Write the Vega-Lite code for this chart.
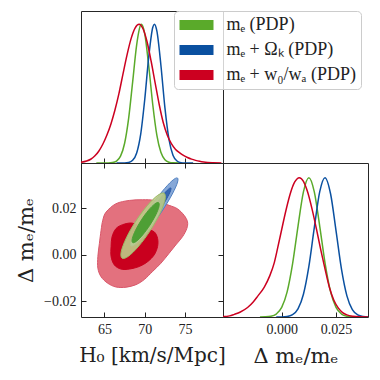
{
  "$schema": "https://vega.github.io/schema/vega-lite/v6.json",
  "padding": {"left": 15, "top": 10, "right": 5, "bottom": 5},
  "spacing": 0,
  "bounds": "flush",
  "config": {
    "view": {"stroke": "#262626", "strokeWidth": 1},
    "axis": {"labelFont": "Liberation Serif", "labelFontSize": 14, "labelColor": "#222", "titleFont": "DejaVu Serif", "titleFontSize": 20, "titleFontWeight": "normal", "titleColor": "#222", "tickColor": "#222", "domain": false, "grid": false, "tickSize": -5, "labelPadding": 10},
    "legend": {"labelFont": "Liberation Serif", "labelFontSize": 18, "labelColor": "#222"}
  },
  "datasets": {
    "h0": [
      {"s":"G","x":64.0,"p":0},{"s":"G","x":65.5,"p":0.0006},{"s":"G","x":66.0,"p":0.0031},{"s":"G","x":66.5,"p":0.0139},{"s":"G","x":67.0,"p":0.0494},{"s":"G","x":67.5,"p":0.1406},{"s":"G","x":68.0,"p":0.32},{"s":"G","x":68.5,"p":0.5836},{"s":"G","x":69.0,"p":0.852},{"s":"G","x":69.5,"p":0.9956},{"s":"G","x":69.6,"p":1.0},{"s":"G","x":70.0,"p":0.931},{"s":"G","x":70.5,"p":0.6974},{"s":"G","x":71.0,"p":0.418},{"s":"G","x":71.5,"p":0.2007},{"s":"G","x":72.0,"p":0.0771},{"s":"G","x":72.5,"p":0.0237},{"s":"G","x":73.0,"p":0.0058},{"s":"G","x":73.5,"p":0.0012},{"s":"G","x":74.5,"p":0},
      {"s":"B","x":66.5,"p":0},{"s":"B","x":67.5,"p":0.0006},{"s":"B","x":68.0,"p":0.0039},{"s":"B","x":68.5,"p":0.0192},{"s":"B","x":69.0,"p":0.0724},{"s":"B","x":69.5,"p":0.2085},{"s":"B","x":70.0,"p":0.458},{"s":"B","x":70.5,"p":0.7666},{"s":"B","x":71.0,"p":0.9785},{"s":"B","x":71.2,"p":1.0},{"s":"B","x":71.5,"p":0.9523},{"s":"B","x":72.0,"p":0.7068},{"s":"B","x":72.5,"p":0.3998},{"s":"B","x":73.0,"p":0.1724},{"s":"B","x":73.5,"p":0.0567},{"s":"B","x":74.0,"p":0.0142},{"s":"B","x":74.5,"p":0.0027},{"s":"B","x":75.0,"p":0.0004},{"s":"B","x":76.0,"p":0},
      {"s":"R","x":62.1,"p":0.005},{"s":"R","x":62.8,"p":0.014},{"s":"R","x":63.3,"p":0.027},{"s":"R","x":63.8,"p":0.05},{"s":"R","x":64.3,"p":0.085},{"s":"R","x":64.8,"p":0.135},{"s":"R","x":65.3,"p":0.2},{"s":"R","x":65.8,"p":0.28},{"s":"R","x":66.3,"p":0.38},{"s":"R","x":66.8,"p":0.5},{"s":"R","x":67.3,"p":0.641},{"s":"R","x":67.8,"p":0.778},{"s":"R","x":68.3,"p":0.895},{"s":"R","x":68.8,"p":0.9725},{"s":"R","x":69.3,"p":1.0},{"s":"R","x":69.8,"p":0.966},{"s":"R","x":70.3,"p":0.871},{"s":"R","x":70.8,"p":0.732},{"s":"R","x":71.3,"p":0.574},{"s":"R","x":71.8,"p":0.42},{"s":"R","x":72.3,"p":0.29},{"s":"R","x":72.8,"p":0.2},{"s":"R","x":73.3,"p":0.14},{"s":"R","x":73.8,"p":0.1},{"s":"R","x":74.3,"p":0.075},{"s":"R","x":74.8,"p":0.055},{"s":"R","x":75.3,"p":0.04},{"s":"R","x":75.8,"p":0.028},{"s":"R","x":76.3,"p":0.019},{"s":"R","x":76.8,"p":0.012},{"s":"R","x":77.3,"p":0.007},{"s":"R","x":77.8,"p":0.004},{"s":"R","x":78.5,"p":0.002},{"s":"R","x":79.5,"p":0.0005}
    ],
    "dm": [
      {"s":"G","x":-0.01,"p":0},{"s":"G","x":-0.0075,"p":0.0011},{"s":"G","x":-0.005,"p":0.0052},{"s":"G","x":-0.0025,"p":0.0211},{"s":"G","x":0,"p":0.0686},{"s":"G","x":0.0025,"p":0.18},{"s":"G","x":0.005,"p":0.381},{"s":"G","x":0.0075,"p":0.651},{"s":"G","x":0.01,"p":0.898},{"s":"G","x":0.0125,"p":1.0},{"s":"G","x":0.015,"p":0.898},{"s":"G","x":0.0175,"p":0.651},{"s":"G","x":0.02,"p":0.381},{"s":"G","x":0.0225,"p":0.18},{"s":"G","x":0.025,"p":0.0686},{"s":"G","x":0.0275,"p":0.0211},{"s":"G","x":0.03,"p":0.0052},{"s":"G","x":0.0325,"p":0.0011},{"s":"G","x":0.035,"p":0},
      {"s":"B","x":-0.0025,"p":0},{"s":"B","x":0,"p":0.0007},{"s":"B","x":0.0025,"p":0.0037},{"s":"B","x":0.005,"p":0.0165},{"s":"B","x":0.0075,"p":0.0583},{"s":"B","x":0.01,"p":0.1633},{"s":"B","x":0.0125,"p":0.3633},{"s":"B","x":0.015,"p":0.6417},{"s":"B","x":0.0175,"p":0.899},{"s":"B","x":0.0199,"p":1.0},{"s":"B","x":0.0225,"p":0.8825},{"s":"B","x":0.025,"p":0.618},{"s":"B","x":0.0275,"p":0.3437},{"s":"B","x":0.03,"p":0.1517},{"s":"B","x":0.0325,"p":0.0531},{"s":"B","x":0.035,"p":0.0148},{"s":"B","x":0.0375,"p":0.0033},{"s":"B","x":0.0397,"p":0.0005},
      {"s":"R","x":-0.027,"p":0.003},{"s":"R","x":-0.024,"p":0.008},{"s":"R","x":-0.0218,"p":0.019},{"s":"R","x":-0.019,"p":0.036},{"s":"R","x":-0.0157,"p":0.068},{"s":"R","x":-0.013,"p":0.11},{"s":"R","x":-0.011,"p":0.15},{"s":"R","x":-0.008,"p":0.215},{"s":"R","x":-0.0055,"p":0.295},{"s":"R","x":-0.0034,"p":0.39},{"s":"R","x":-0.0018,"p":0.499},{"s":"R","x":0,"p":0.628},{"s":"R","x":0.002,"p":0.768},{"s":"R","x":0.004,"p":0.888},{"s":"R","x":0.006,"p":0.969},{"s":"R","x":0.0081,"p":1.0},{"s":"R","x":0.01,"p":0.973},{"s":"R","x":0.012,"p":0.893},{"s":"R","x":0.014,"p":0.772},{"s":"R","x":0.016,"p":0.63},{"s":"R","x":0.018,"p":0.48},{"s":"R","x":0.02,"p":0.34},{"s":"R","x":0.022,"p":0.21},{"s":"R","x":0.024,"p":0.12},{"s":"R","x":0.026,"p":0.065},{"s":"R","x":0.028,"p":0.032},{"s":"R","x":0.03,"p":0.015},{"s":"R","x":0.0327,"p":0.005},{"s":"R","x":0.036,"p":0.001},{"s":"R","x":0.0397,"p":0}
    ],
    "poly": [
      {"g":"ro","i":0,"x":65.21,"y":0.0184},{"g":"ro","i":1,"x":66.44,"y":0.0220},{"g":"ro","i":2,"x":68.09,"y":0.0234},{"g":"ro","i":3,"x":69.74,"y":0.0237},{"g":"ro","i":4,"x":71.17,"y":0.0234},{"g":"ro","i":5,"x":73.02,"y":0.0213},{"g":"ro","i":6,"x":74.06,"y":0.0198},{"g":"ro","i":7,"x":74.88,"y":0.0170},{"g":"ro","i":8,"x":75.30,"y":0.0142},{"g":"ro","i":9,"x":75.21,"y":0.0113},{"g":"ro","i":10,"x":74.68,"y":0.0078},{"g":"ro","i":11,"x":73.85,"y":0.0043},{"g":"ro","i":12,"x":73.02,"y":0.0007},{"g":"ro","i":13,"x":72.0,"y":-0.0036},{"g":"ro","i":14,"x":70.98,"y":-0.0071},{"g":"ro","i":15,"x":69.94,"y":-0.0106},{"g":"ro","i":16,"x":68.91,"y":-0.0128},{"g":"ro","i":17,"x":67.68,"y":-0.0139},{"g":"ro","i":18,"x":66.44,"y":-0.0138},{"g":"ro","i":19,"x":65.42,"y":-0.0122},{"g":"ro","i":20,"x":64.59,"y":-0.0094},{"g":"ro","i":21,"x":64.19,"y":-0.0057},{"g":"ro","i":22,"x":64.19,"y":-0.0007},{"g":"ro","i":23,"x":64.38,"y":0.0049},{"g":"ro","i":24,"x":64.59,"y":0.0106},{"g":"ro","i":25,"x":64.80,"y":0.0149},
      {"g":"ri","i":0,"x":65.95,"y":0.0078},{"g":"ri","i":1,"x":66.44,"y":0.0113},{"g":"ri","i":2,"x":67.27,"y":0.0130},{"g":"ri","i":3,"x":68.30,"y":0.0137},{"g":"ri","i":4,"x":69.12,"y":0.0128},{"g":"ri","i":5,"x":70.15,"y":0.0113},{"g":"ri","i":6,"x":71.17,"y":0.0099},{"g":"ri","i":7,"x":71.59,"y":0.0071},{"g":"ri","i":8,"x":71.59,"y":0.0036},{"g":"ri","i":9,"x":71.17,"y":0.0},{"g":"ri","i":10,"x":70.36,"y":-0.0029},{"g":"ri","i":11,"x":69.32,"y":-0.0050},{"g":"ri","i":12,"x":68.09,"y":-0.0061},{"g":"ri","i":13,"x":67.06,"y":-0.0061},{"g":"ri","i":14,"x":66.23,"y":-0.0043},{"g":"ri","i":15,"x":65.83,"y":-0.0007},{"g":"ri","i":16,"x":65.83,"y":0.0036},
      {"g":"bo","i":0,"x":74.06,"y":0.03304},{"g":"bo","i":1,"x":73.98,"y":0.03035},{"g":"bo","i":2,"x":73.15,"y":0.02450},{"g":"bo","i":3,"x":71.79,"y":0.01699},{"g":"bo","i":4,"x":70.27,"y":0.00989},{"g":"bo","i":5,"x":68.99,"y":0.00505},{"g":"bo","i":6,"x":68.30,"y":0.00382},{"g":"bo","i":7,"x":68.38,"y":0.00650},{"g":"bo","i":8,"x":69.21,"y":0.01235},{"g":"bo","i":9,"x":70.56,"y":0.01986},{"g":"bo","i":10,"x":72.09,"y":0.02696},{"g":"bo","i":11,"x":73.37,"y":0.03180},
      {"g":"bi","i":0,"x":73.23,"y":0.02878},{"g":"bi","i":1,"x":73.13,"y":0.02698},{"g":"bi","i":2,"x":72.50,"y":0.02284},{"g":"bi","i":3,"x":71.52,"y":0.01749},{"g":"bi","i":4,"x":70.44,"y":0.01234},{"g":"bi","i":5,"x":69.57,"y":0.00879},{"g":"bi","i":6,"x":69.12,"y":0.00779},{"g":"bi","i":7,"x":69.23,"y":0.00959},{"g":"bi","i":8,"x":69.85,"y":0.01372},{"g":"bi","i":9,"x":70.84,"y":0.01908},{"g":"bi","i":10,"x":71.91,"y":0.02421},{"g":"bi","i":11,"x":72.79,"y":0.02777},
      {"g":"go","i":0,"x":72.41,"y":0.02648},{"g":"go","i":1,"x":72.51,"y":0.02362},{"g":"go","i":2,"x":71.88,"y":0.01779},{"g":"go","i":3,"x":70.70,"y":0.01054},{"g":"go","i":4,"x":69.27,"y":0.00383},{"g":"go","i":5,"x":67.99,"y":-0.00054},{"g":"go","i":6,"x":67.19,"y":-0.00140},{"g":"go","i":7,"x":67.09,"y":0.00146},{"g":"go","i":8,"x":67.72,"y":0.00729},{"g":"go","i":9,"x":68.90,"y":0.01454},{"g":"go","i":10,"x":70.33,"y":0.02125},{"g":"go","i":11,"x":71.61,"y":0.02560},
      {"g":"gi","i":0,"x":71.71,"y":0.02247},{"g":"gi","i":1,"x":71.76,"y":0.02074},{"g":"gi","i":2,"x":71.36,"y":0.01718},{"g":"gi","i":3,"x":70.63,"y":0.01274},{"g":"gi","i":4,"x":69.75,"y":0.00860},{"g":"gi","i":5,"x":68.98,"y":0.00587},{"g":"gi","i":6,"x":68.50,"y":0.00530},{"g":"gi","i":7,"x":68.46,"y":0.00702},{"g":"gi","i":8,"x":68.86,"y":0.01058},{"g":"gi","i":9,"x":69.59,"y":0.01504},{"g":"gi","i":10,"x":70.46,"y":0.01916},{"g":"gi","i":11,"x":71.24,"y":0.02189}
    ]
  },
  "vconcat": [
    {
      "width": 142, "height": 152,
      "data": {"name": "h0"},
      "mark": {"type": "line", "strokeWidth": 1.5, "interpolate": "monotone", "clip": true},
      "encoding": {
        "x": {"field": "x", "type": "quantitative", "scale": {"domain": [62.1, 79.7], "nice": false, "zero": false}, "axis": {"values": [65, 70, 75], "labels": false, "title": null}},
        "y": {"field": "p", "type": "quantitative", "scale": {"domain": [0, 1.096], "nice": false}, "axis": null},
        "color": {"field": "s", "type": "nominal", "scale": {"domain": ["G", "B", "R"], "range": ["#5aaa2a", "#0a50a0", "#cc0020"]},
          "legend": {"orient": "none", "legendX": 93, "legendY": 0, "title": null, "padding": 5, "rowPadding": 7, "labelOffset": 21, "symbolOffset": 8.5,
            "symbolType": "M-2,-0.6H2V0.6H-2Z", "symbolSize": 289, "symbolStrokeWidth": 0,
            "fillColor": "rgba(255,255,255,0.8)", "strokeColor": "#cccccc", "cornerRadius": 4,
            "labelExpr": "datum.value == 'G' ? 'mₑ (PDP)' : datum.value == 'B' ? 'mₑ + Ωₖ (PDP)' : 'mₑ + w₀/wₐ (PDP)'",
            "encode": {"symbols": {"update": {"fill": {"scale": "color", "field": "value"}, "strokeWidth": {"value": 0}}}}}
        }
      }
    },
    {
      "spacing": 0,
      "bounds": "flush",
      "hconcat": [
        {
          "width": 142, "height": 154,
          "resolve": {"axis": {"x": "independent", "y": "independent"}},
          "layer": [
            {
              "data": {"name": "poly"},
              "encoding": {
                "x": {"field": "x", "type": "quantitative", "scale": {"domain": [62.1, 79.7], "nice": false, "zero": false}, "axis": {"values": [65, 70, 75], "title": "H₀ [km/s/Mpc]", "titlePadding": 9}},
                "y": {"field": "y", "type": "quantitative", "scale": {"domain": [-0.0267, 0.0395], "nice": false, "zero": false}, "axis": {"values": [-0.02, 0, 0.02], "format": ".2f", "title": "Δ mₑ/mₑ", "titleFontSize": 21, "titlePadding": 7}},
                "order": {"field": "i", "type": "quantitative"}
              },
              "layer": [
                {"transform": [{"filter": "datum.g === 'ro'"}], "mark": {"type": "line", "interpolate": "cardinal-closed", "fill": "#e3717e", "stroke": "#d9576a", "strokeWidth": 1, "clip": true}},
                {"transform": [{"filter": "datum.g === 'ri'"}], "mark": {"type": "line", "interpolate": "cardinal-closed", "fill": "#c9001e", "stroke": "#c9001e", "strokeWidth": 1, "clip": true}},
                {"transform": [{"filter": "datum.g === 'bo'"}], "mark": {"type": "line", "interpolate": "cardinal-closed", "fill": "#86a8d8", "stroke": "#4f7fc0", "strokeWidth": 1, "clip": true}},
                {"transform": [{"filter": "datum.g === 'bi'"}], "mark": {"type": "line", "interpolate": "cardinal-closed", "fill": "#3565b0", "stroke": "#2a5aa8", "strokeWidth": 1, "clip": true}},
                {"transform": [{"filter": "datum.g === 'go'"}], "mark": {"type": "line", "interpolate": "cardinal-closed", "fill": "#bccc88", "fillOpacity": 0.9, "stroke": "#9cbb66", "strokeWidth": 1, "clip": true}},
                {"transform": [{"filter": "datum.g === 'gi'"}], "mark": {"type": "line", "interpolate": "cardinal-closed", "fill": "#4e9f35", "stroke": "#4e9f35", "strokeWidth": 1, "clip": true}}
              ]
            },
            {
              "data": {"name": "poly"},
              "mark": {"type": "point", "opacity": 0},
              "encoding": {
                "x": {"field": "x", "type": "quantitative", "scale": {"domain": [62.1, 79.7], "nice": false, "zero": false}, "axis": {"orient": "top", "values": [65, 70, 75], "labels": false, "title": null}},
                "y": {"field": "y", "type": "quantitative", "scale": {"domain": [-0.0267, 0.0395], "nice": false, "zero": false}, "axis": {"orient": "right", "values": [-0.02, 0, 0.02], "labels": false, "title": null}}
              }
            }
          ]
        },
        {
          "width": 145, "height": 154,
          "data": {"name": "dm"},
          "mark": {"type": "line", "strokeWidth": 1.5, "interpolate": "monotone", "clip": true},
          "encoding": {
            "x": {"field": "x", "type": "quantitative", "scale": {"domain": [-0.027, 0.0397], "nice": false, "zero": false}, "axis": {"values": [0, 0.025], "format": ".3f", "title": "Δ mₑ/mₑ", "titleFontSize": 21, "titlePadding": 9}},
            "y": {"field": "p", "type": "quantitative", "scale": {"domain": [0, 1.105], "nice": false}, "axis": null},
            "stroke": {"field": "s", "type": "nominal", "scale": {"domain": ["G", "B", "R"], "range": ["#5aaa2a", "#0a50a0", "#cc0020"]}, "legend": null}
          }
        }
      ]
    }
  ]
}
